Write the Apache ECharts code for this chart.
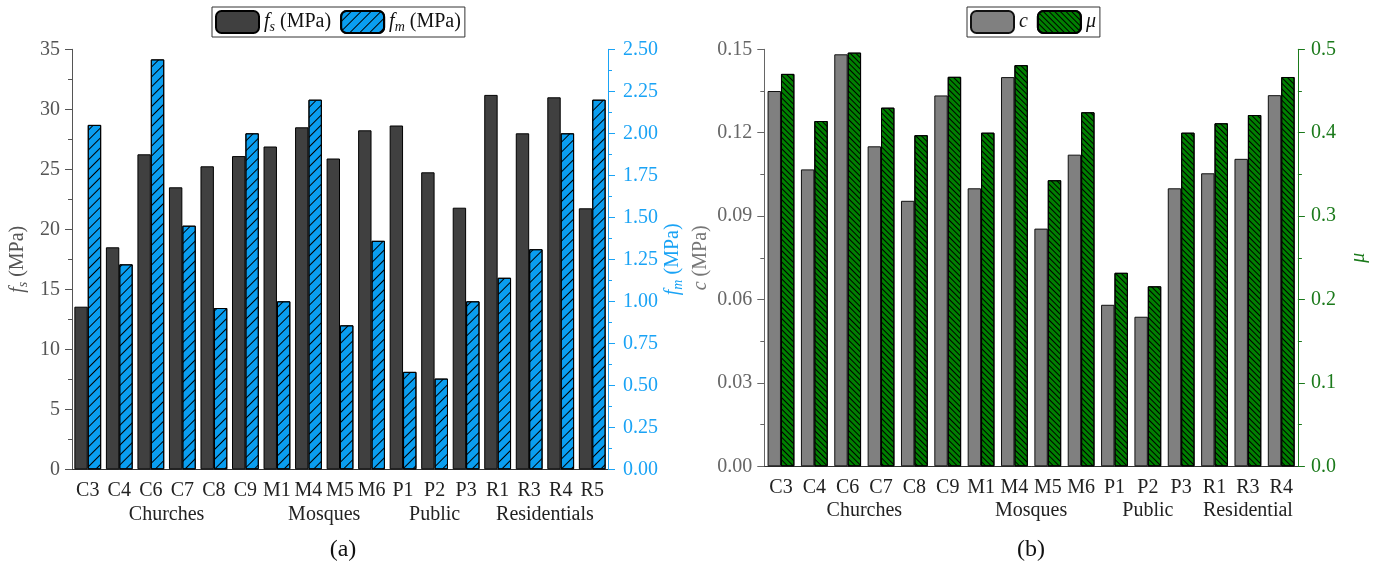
<!DOCTYPE html>
<html><head><meta charset="utf-8">
<script src="https://cdn.jsdelivr.net/npm/echarts@6/dist/echarts.min.js"></script>
<style>html,body{margin:0;padding:0;background:#fff}#c{width:1375px;height:566px}</style>
</head><body><div id="c"></div>
<script>
// ---- data ----
const catsA = ['C3','C4','C6','C7','C8','C9','M1','M4','M5','M6','P1','P2','P3','R1','R3','R4','R5'];
const fsVals = [13.55, 18.5, 26.25, 23.5, 25.25, 26.1, 26.9, 28.5, 25.9, 28.25, 28.65, 24.75, 21.8, 31.2, 28.0, 31.0, 21.75];
const fmVals = [2.05, 1.22, 2.44, 1.45, 0.96, 2.0, 1.0, 2.2, 0.857, 1.36, 0.58, 0.54, 1.0, 1.14, 1.31, 2.0, 2.2];
const catsB = ['C3','C4','C6','C7','C8','C9','M1','M4','M5','M6','P1','P2','P3','R1','R3','R4'];
const cVals = [0.135, 0.1068, 0.1482, 0.1151, 0.0955, 0.1334, 0.1, 0.14, 0.0855, 0.1121, 0.0581, 0.0538, 0.1, 0.1054, 0.1106, 0.1335];
const muVals = [0.4705, 0.414, 0.496, 0.43, 0.397, 0.467, 0.4, 0.481, 0.343, 0.4245, 0.232, 0.2158, 0.4, 0.4113, 0.4212, 0.4668];
const groupNamesA = ['Churches','Mosques','Public','Residentials'];
const groupFirstA = ['C3','M1','P1','R1'];
const groupLastA  = ['C9','M6','P3','R5'];
const groupNamesB = ['Churches','Mosques','Public','Residential'];
const groupFirstB = ['C3','M1','P1','R1'];
const groupLastB  = ['C9','M6','P3','R4'];
const panelLabels = ['(a)','(b)'];

const FONT = 'Liberation Serif';
const GRAY = '#555555';
const BLUE = '#1AA3F5';
const GREEN = '#1B7A1B';

function yAxisBase(color, min, max, interval, dec, name, gap, rich, pos, gridIndex, margin){
  return {
    type:'value', gridIndex, position:pos, min, max, interval,
    name, nameLocation:'middle', nameGap:gap, nameRotate:90,
    nameTextStyle:{fontFamily:FONT, fontSize:20, color:color, rich},
    axisLine:{show:true, lineStyle:{color:color, width:1}},
    axisTick:{show:true, length:7, lineStyle:{color:color}},
    minorTick:{show:true, splitNumber:2, length:4, lineStyle:{color:color}},
    splitLine:{show:false},
    axisLabel:{fontFamily:FONT, fontSize:20, color:color, margin:margin,
      formatter:v=>Number(v).toFixed(dec)}
  };
}
function xAxisBase(cats, gridIndex){
  return {
    type:'category', data:cats, gridIndex,
    axisLine:{lineStyle:{color:'#333', width:1}},
    axisTick:{alignWithLabel:true, length:6, lineStyle:{color:'#333'}},
    axisLabel:{fontFamily:FONT, fontSize:20, color:'#222', margin:11, interval:0}
  };
}
const subRich = {
  i:{fontFamily:FONT, fontSize:20, fontStyle:'italic'},
  s:{fontFamily:FONT, fontSize:14, fontStyle:'italic', verticalAlign:'bottom', padding:[10,0,0,0]}
};
function richColor(col){
  return {
    i:{fontFamily:FONT, fontSize:20, fontStyle:'italic', color:col},
    s:{fontFamily:FONT, fontSize:14, fontStyle:'italic', color:col, padding:[10,0,0,0]},
    n:{fontFamily:FONT, fontSize:20, color:col}
  };
}

const chart = echarts.init(document.getElementById('c'), null, {renderer:'canvas'});
const option = {
  animation:false,
  backgroundColor:'#fff',
  grid:[
    {left:72, top:49.3, width:536, height:420},
    {left:764.3, top:49.3, width:533.6, height:417}
  ],
  legend:[
    {data:['fs','fm'], left:'center', top:7, borderColor:'#333', borderWidth:1, padding:[3,4,3,3],
     itemWidth:43, itemHeight:22, itemGap:9, left:212,
     textStyle:{fontFamily:FONT, fontSize:20, color:'#111', rich:{
       i:{fontFamily:FONT, fontSize:20, fontStyle:'italic', color:'#111'},
       s:{fontFamily:FONT, fontSize:14, fontStyle:'italic', color:'#111', padding:[10,0,0,0]},
       n:{fontFamily:FONT, fontSize:20, color:'#111'}}},
     formatter:n=> n==='fs' ? '{i|f}{s|s}{n| (MPa)}' : '{i|f}{s|m}{n| (MPa)}'},
    {data:['c','mu'], top:7, left:967, borderColor:'#333', borderWidth:1, padding:[3,4,3,3],
     itemWidth:43, itemHeight:22, itemGap:9,
     textStyle:{fontFamily:FONT, fontSize:20, color:'#111', fontStyle:'italic'},
     formatter:n=> n==='c' ? 'c' : 'μ'}
  ],
  xAxis:[ xAxisBase(catsA,0), xAxisBase(catsB,1) ],
  yAxis:[
    yAxisBase(GRAY,0,35,5,0,'{i|f}{s|s}{n| (MPa)}',42,richColor(GRAY),'left',0,12),
    yAxisBase(BLUE,0,2.5,0.25,2,'{i|f}{s|m}{n| (MPa)}',53,richColor(BLUE),'right',0,15),
    yAxisBase('#666',0,0.15,0.03,2,'{i|c}{n| (MPa)}',54,richColor('#777'),'left',1,12),
    yAxisBase(GREEN,0,0.5,0.1,1,'{i|μ}',51,richColor(GREEN),'right',1,13)
  ],
  series:[
    {name:'fs', type:'bar', xAxisIndex:0, yAxisIndex:0, data:fsVals, barWidth:13.4, barGap:'0%',
     itemStyle:{color:'#404040', borderColor:'#000', borderWidth:1}},
    {name:'fm', type:'bar', xAxisIndex:0, yAxisIndex:1, data:fmVals, barWidth:13.4, barGap:'0%',
     itemStyle:{color:'#0A9EF0', borderColor:'#000', borderWidth:1,
       decal:{symbol:'rect', symbolSize:1, color:'#000', dashArrayX:[1,0], dashArrayY:[1,6], rotation:-Math.PI/4}}},
    {name:'c', type:'bar', xAxisIndex:1, yAxisIndex:2, data:cVals, barWidth:13.4, barGap:'0%',
     itemStyle:{color:'#808080', borderColor:'#111', borderWidth:1}},
    {name:'mu', type:'bar', xAxisIndex:1, yAxisIndex:3, data:muVals, barWidth:13.4, barGap:'0%',
     itemStyle:{color:'#008000', borderColor:'#000', borderWidth:1,
       decal:{symbol:'rect', symbolSize:1, color:'#000', dashArrayX:[1,0], dashArrayY:[1,3], rotation:Math.PI/4}}}
  ]
};
chart.setOption(option);

// group labels & panel labels placed via the axes' own scales
const graphics = [];
function addGroups(names, firsts, lasts, xi, yi, y){
  names.forEach((nm,k)=>{
    const a = chart.convertToPixel({xAxisIndex:xi, yAxisIndex:yi}, [firsts[k], 0]);
    const b = chart.convertToPixel({xAxisIndex:xi, yAxisIndex:yi}, [lasts[k], 0]);
    graphics.push({type:'text', x:(a[0]+b[0])/2, y:y, style:{text:nm, font:'20px "Liberation Serif"', fill:'#222', textAlign:'center', textVerticalAlign:'middle'}});
  });
}
addGroups(groupNamesA, groupFirstA, groupLastA, 0, 0, 515);
addGroups(groupNamesB, groupFirstB, groupLastB, 1, 2, 511);
const gA0 = chart.convertToPixel({xAxisIndex:0, yAxisIndex:0}, [catsA[0],0]);
const gA1 = chart.convertToPixel({xAxisIndex:0, yAxisIndex:0}, [catsA[catsA.length-1],0]);
const gB0 = chart.convertToPixel({xAxisIndex:1, yAxisIndex:2}, [catsB[0],0]);
const gB1 = chart.convertToPixel({xAxisIndex:1, yAxisIndex:2}, [catsB[catsB.length-1],0]);
graphics.push({type:'text', x:(gA0[0]+gA1[0])/2+3, y:550, style:{text:panelLabels[0], font:'24px "Liberation Serif"', fill:'#111', textAlign:'center', textVerticalAlign:'middle'}});
graphics.push({type:'text', x:(gB0[0]+gB1[0])/2, y:550, style:{text:panelLabels[1], font:'24px "Liberation Serif"', fill:'#111', textAlign:'center', textVerticalAlign:'middle'}});
chart.setOption({graphic:graphics});
</script></body></html>
